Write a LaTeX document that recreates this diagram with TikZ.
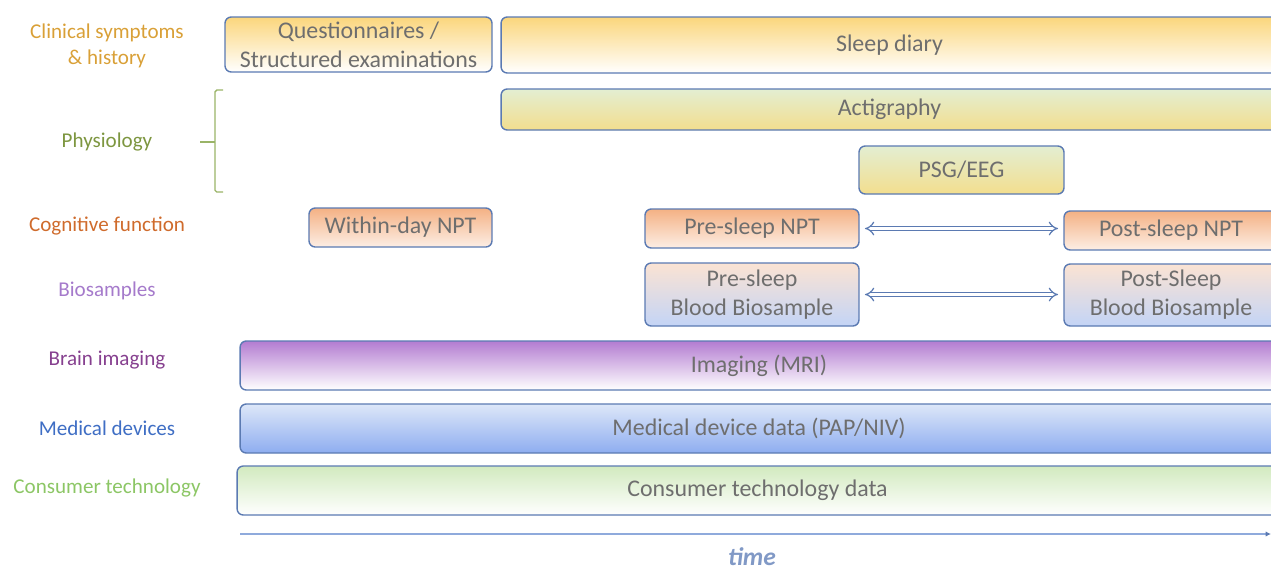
\documentclass[tikz,border=0pt]{standalone}
\usepackage{fontspec}
\setmainfont{Carlito}
\usetikzlibrary{arrows.meta}
\definecolor{edge}{HTML}{5B7AB2}
\definecolor{txt}{HTML}{6E6E6E}
\definecolor{ylw}{HTML}{FBD67C}
\definecolor{grn}{HTML}{E3EED2}
\definecolor{gld}{HTML}{F3DE8E}
\definecolor{orn}{HTML}{F4B184}
\definecolor{pch}{HTML}{FBE3D3}
\definecolor{lblu}{HTML}{C3D4F6}
\definecolor{prp}{HTML}{B37CD1}
\definecolor{sky}{HTML}{DDE7F8}
\definecolor{blu}{HTML}{8EADF0}
\definecolor{mnt}{HTML}{D2EABF}
\definecolor{brk}{HTML}{9AB467}
\definecolor{axis}{HTML}{8FAADC}

\begin{document}
\begin{tikzpicture}[x=0.02cm,y=-0.02cm,
  box/.style={draw=edge, line width=0.8pt, rounded corners=3.5pt, text=txt,
    font=\fontsize{13.6}{16.4}\selectfont, align=center, inner sep=0pt},
  lab/.style={font=\fontsize{12}{14.7}\selectfont, align=center},
  dbl/.style={draw=edge, line width=0.7pt, double=white, double distance=2pt,
    {Implies}-{Implies}}]
  \useasboundingbox (0,0) rectangle (1271,572);
  \clip (0,0) rectangle (1271,572);

  \foreach \n/\y/\c/\t in {clin/46/D9A037/{Clinical symptoms\\\& history},
      phys/142/7D9640/Physiology, cogn/226/CF6B2C/Cognitive function,
      bios/291/A57ACB/Biosamples, brain/360/86408F/Brain imaging,
      med/428/3F6EC4/Medical devices, cons/488/8CC665/Consumer technology}{
    \definecolor{lc}{HTML}{\c}
    \node[lab, text=lc] (lab-\n) at (107,\y) {\t};
  }

  \draw[brk, line width=0.8pt, rounded corners=1pt] (223,90) -- (215,90) -- (215,192) -- (223,192);
  \draw[brk, line width=0.8pt] (215,142) -- (200,142);

  \node[box, top color=ylw, bottom color=white, minimum width=5.34cm, minimum height=1.1cm] (quest) at (358.5,44.5) {Questionnaires /\\Structured examinations};
  \node[box, top color=ylw, bottom color=white, minimum width=15.54cm, minimum height=1.12cm] (diary) at (889.5,45) {Sleep diary};
  \node[box, top color=grn, bottom color=gld, minimum width=15.54cm, minimum height=0.82cm] (acti) at (889.5,109.5) {Actigraphy};
  \node[box, top color=grn, bottom color=gld, minimum width=4.1cm, minimum height=0.96cm] (psg) at (961.5,170) {PSG/EEG};

  \node[box, top color=orn, bottom color=pch!60!white, minimum width=3.66cm, minimum height=0.78cm] (within) at (400.5,227.5) {Within-day NPT};
  \node[box, top color=orn, bottom color=pch!60!white, minimum width=4.28cm, minimum height=0.78cm] (prenpt) at (752,228.5) {Pre-sleep NPT};
  \node[box, top color=orn, bottom color=pch!60!white, minimum width=4.28cm, minimum height=0.78cm] (postnpt) at (1171,230.5) {Post-sleep NPT};

  \node[box, top color=pch, bottom color=lblu, minimum width=4.28cm, minimum height=1.26cm] (preblood) at (752,294.5) {Pre-sleep\\Blood Biosample};
  \node[box, top color=pch, bottom color=lblu, minimum width=4.28cm, minimum height=1.24cm] (postblood) at (1171,295) {Post-Sleep\\Blood Biosample};

  \node[box, top color=prp, bottom color=white, minimum width=20.76cm, minimum height=0.98cm] (mri) at (759,365.5) {Imaging (MRI)};
  \node[box, top color=sky, bottom color=blu, minimum width=20.76cm, minimum height=0.98cm] (pap) at (759,428.5) {Medical device data (PAP/NIV)};
  \node[box, top color=mnt, bottom color=white, minimum width=20.82cm, minimum height=0.98cm] (ctd) at (757.5,490.5) {Consumer technology data};

  \draw[dbl] ([xshift=3pt]prenpt.east) -- ([xshift=-3pt]prenpt.east -| postnpt.west);
  \draw[dbl] ([xshift=3pt]preblood.east) -- ([xshift=-3pt]preblood.east -| postblood.west);

  \coordinate (t0) at (240,534);
  \coordinate (t1) at (1271,534);
  \draw[axis, line width=0.8pt, -{Latex[length=3pt,width=3pt,color=edge]}] (t0) -- (t1);
  \node[axis!90!black, font=\fontsize{14.5}{17}\selectfont\bfseries\itshape, anchor=base] (time) at (752,565) {time};
\end{tikzpicture}
\end{document}
